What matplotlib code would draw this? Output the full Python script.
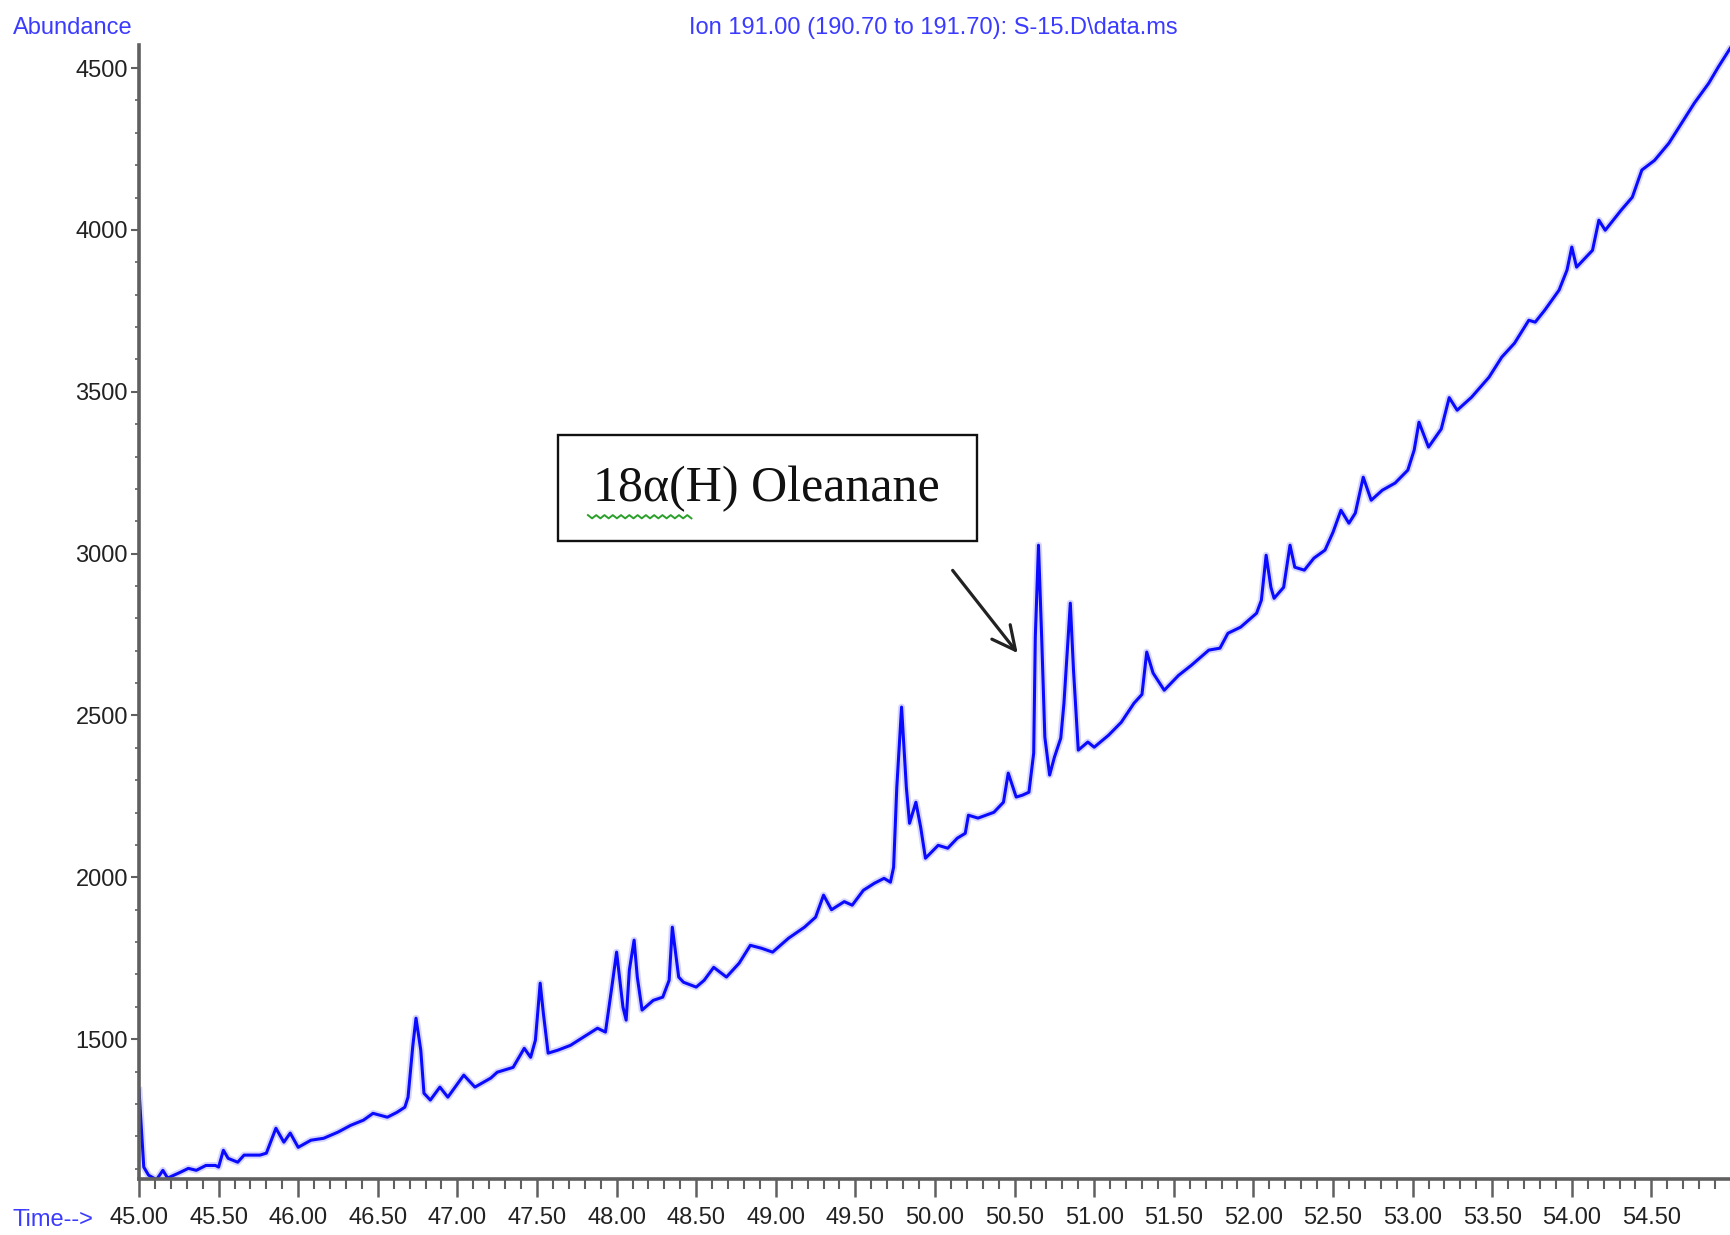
import matplotlib
matplotlib.use("Agg")
import matplotlib.pyplot as plt
import numpy as np
from matplotlib import font_manager
from matplotlib.patches import Rectangle
from matplotlib.ticker import FixedLocator, FormatStrFormatter

# retention time (min) and abundance
time_min = [
    45.00, 45.03, 45.06, 45.11, 45.15, 45.18, 45.26, 45.31, 45.36, 45.42,
    45.48, 45.50, 45.53, 45.56, 45.62, 45.66, 45.76, 45.80, 45.86, 45.91,
    45.95, 46.00, 46.08, 46.16, 46.25, 46.33, 46.41, 46.47, 46.56, 46.62,
    46.67, 46.69, 46.72, 46.74, 46.77, 46.79, 46.83, 46.89, 46.94, 47.04,
    47.11, 47.21, 47.25, 47.35, 47.42, 47.46, 47.49, 47.52, 47.54, 47.57,
    47.63, 47.71, 47.79, 47.88, 47.93, 47.97, 48.00, 48.04, 48.06, 48.08,
    48.11, 48.13, 48.16, 48.23, 48.29, 48.33, 48.35, 48.39, 48.42, 48.50,
    48.55, 48.61, 48.69, 48.77, 48.84, 48.91, 48.98, 49.08, 49.18, 49.25,
    49.30, 49.35, 49.43, 49.48, 49.55, 49.62, 49.68, 49.72, 49.74, 49.76,
    49.79, 49.82, 49.84, 49.88, 49.91, 49.94, 50.02, 50.08, 50.14, 50.19,
    50.21, 50.27, 50.37, 50.43, 50.46, 50.51, 50.55, 50.59, 50.62, 50.63,
    50.65, 50.67, 50.69, 50.72, 50.75, 50.79, 50.81, 50.85, 50.87, 50.90,
    50.96, 51.00, 51.09, 51.17, 51.25, 51.30, 51.33, 51.37, 51.44, 51.53,
    51.61, 51.72, 51.79, 51.84, 51.92, 52.02, 52.05, 52.08, 52.11, 52.13,
    52.19, 52.23, 52.26, 52.32, 52.38, 52.45, 52.50, 52.55, 52.60, 52.64,
    52.69, 52.74, 52.81, 52.89, 52.97, 53.01, 53.04, 53.10, 53.18, 53.23,
    53.28, 53.37, 53.48, 53.56, 53.64, 53.73, 53.77, 53.83, 53.92, 53.97,
    54.00, 54.03, 54.13, 54.17, 54.21, 54.31, 54.38, 54.44, 54.52, 54.61,
    54.69, 54.77, 54.86, 54.92, 55.00,
]
abundance = [
    1342, 1105, 1080, 1066, 1095, 1071, 1089, 1101, 1095, 1110,
    1110, 1105, 1157, 1132, 1120, 1142, 1142, 1148, 1225, 1182,
    1210, 1166, 1188, 1194, 1213, 1234, 1250, 1271, 1259, 1274,
    1290, 1321, 1480, 1565, 1466, 1333, 1312, 1352, 1321, 1389,
    1352, 1380, 1398, 1413, 1472, 1444, 1497, 1673, 1580, 1457,
    1466, 1481, 1506, 1534, 1522, 1661, 1769, 1599, 1559, 1713,
    1806, 1692, 1590, 1620, 1630, 1682, 1846, 1692, 1676, 1661,
    1682, 1722, 1692, 1735, 1790, 1781, 1769, 1812, 1846, 1877,
    1945, 1900, 1925, 1914, 1960, 1982, 1997, 1985, 2031, 2278,
    2526, 2278, 2167, 2232, 2155, 2059, 2099, 2090, 2121, 2136,
    2192, 2183, 2201, 2232, 2322, 2248, 2254, 2263, 2384, 2742,
    3026, 2742, 2433, 2316, 2371, 2430, 2538, 2847, 2640, 2393,
    2418, 2402, 2439, 2479, 2538, 2565, 2696, 2631, 2578, 2624,
    2655, 2702, 2708, 2754, 2773, 2816, 2856, 2995, 2896, 2862,
    2896, 3026, 2958, 2949, 2986, 3011, 3066, 3134, 3094, 3125,
    3236, 3165, 3196, 3218, 3258, 3320, 3406, 3329, 3385, 3482,
    3443, 3483, 3545, 3607, 3650, 3721, 3715, 3752, 3814, 3876,
    3947, 3885, 3937, 4030, 3999, 4061, 4101, 4185, 4215, 4268,
    4330, 4392, 4453, 4503, 4565,
]

x_major = [45.0, 45.5, 46.0, 46.5, 47.0, 47.5, 48.0, 48.5, 49.0, 49.5,
           50.0, 50.5, 51.0, 51.5, 52.0, 52.5, 53.0, 53.5, 54.0, 54.5]
y_major = [1500, 2000, 2500, 3000, 3500, 4000, 4500]

title = "Ion 191.00 (190.70 to 191.70): S-15.D\\data.ms"
peak_label = "18\u03b1(H) Oleanane"

# use a narrow sans face when one is installed, otherwise plain Liberation Sans
narrow = [f.fname for f in font_manager.fontManager.ttflist
          if "SansNarrow-Regular" in f.fname.replace(" ", "")]
if narrow:
    sans_kw = dict(fontproperties=font_manager.FontProperties(fname=narrow[0]))
    fs = 21.0
else:
    sans_kw = dict(family=["Liberation Sans", "DejaVu Sans"])
    fs = 17.0
serif = ["Liberation Serif", "DejaVu Serif"]
blue_txt = "#3b3bff"

fig = plt.figure(figsize=(17.31, 12.35), dpi=100)
ax = fig.add_axes([0.0803, 0.0453, 0.9197, 0.9182])

# soft halo under the trace, then the trace itself
ax.plot(time_min, abundance, color="#0000ff", lw=5.0, alpha=0.16,
        solid_joinstyle="round")
ax.plot(time_min, abundance, color="#0a0aff", lw=2.2,
        solid_joinstyle="round")

ax.set_xlim(45.0, 55.0)
ax.set_ylim(1068, 4571)

for s in ("top", "right"):
    ax.spines[s].set_visible(False)
for s in ("left", "bottom"):
    ax.spines[s].set_color("#606060")
    ax.spines[s].set_linewidth(2.6)

ax.xaxis.set_major_locator(FixedLocator(x_major))
ax.xaxis.set_minor_locator(FixedLocator(np.round(np.arange(45.0, 55.01, 0.1), 2)))
ax.xaxis.set_major_formatter(FormatStrFormatter("%.2f"))
ax.yaxis.set_major_locator(FixedLocator(y_major))
ax.yaxis.set_minor_locator(FixedLocator(np.arange(1100, 4600, 100)))
ax.yaxis.set_major_formatter(FormatStrFormatter("%d"))

ax.tick_params(axis="x", which="major", direction="out", length=13,
               width=1.8, color="#606060", pad=7, labelsize=fs,
               labelcolor="#222222")
ax.tick_params(axis="x", which="minor", direction="out", length=7,
               width=1.5, color="#606060")
ax.tick_params(axis="y", which="major", direction="out", length=6,
               width=1.5, color="#606060", pad=2, labelsize=fs,
               labelcolor="#222222")
ax.tick_params(axis="y", which="minor", direction="out", length=3,
               width=1.2, color="#606060")
for lab in ax.get_xticklabels() + ax.get_yticklabels():
    if narrow:
        lab.set_fontproperties(sans_kw["fontproperties"])
        lab.set_fontsize(fs)
    else:
        lab.set_family(sans_kw["family"])

# header texts
fig.text(0.0075, 0.977, "Abundance", color=blue_txt, fontsize=fs,
         ha="left", va="center", **sans_kw)
fig.text(0.539, 0.977, title, color=blue_txt, fontsize=fs,
         ha="center", va="center", **sans_kw)
fig.text(0.0075, 0.0125, "Time-->", color=blue_txt, fontsize=fs,
         ha="left", va="center", **sans_kw)

# callout box with arrow to the oleanane peak
box = Rectangle((47.635, 3038), 50.264 - 47.635, 3366 - 3038,
                fill=False, edgecolor="#111111", lw=1.7, zorder=5)
ax.add_patch(box)
ax.text(48.94, 3200, peak_label, fontsize=36, family=serif,
        color="#111111", ha="center", va="center", zorder=6)
# spell-check squiggle under the first word
sq_x = np.linspace(47.82, 48.47, 26)
sq_y = 3114 + np.where(np.arange(26) % 2 == 0, 5, -5)
ax.plot(sq_x, sq_y, color="#2aa02a", lw=1.4, zorder=6)

ax.annotate("", xy=(50.53, 2686), xytext=(50.10, 2955),
            arrowprops=dict(arrowstyle="->", color="#222222", lw=2.3,
                            mutation_scale=42))

fig.savefig("out.png", dpi=100)
